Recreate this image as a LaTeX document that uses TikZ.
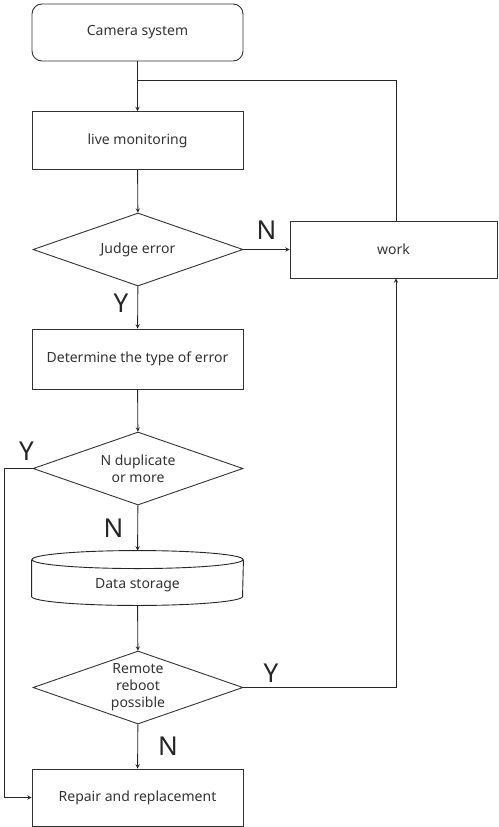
\documentclass[tikz,border=0pt]{standalone}
\usepackage{fontspec}
\setmainfont{Noto Sans}
\usepackage{tikz}
\usetikzlibrary{shapes.geometric}

\tikzset{
  box/.style={draw=black!80, line width=0.9pt, minimum width=211pt, minimum height=58pt,
    inner sep=0pt, font=\fontsize{14}{17}\selectfont, text=black!80},
  decide/.style={diamond, draw=black!80, line width=0.9pt, minimum width=210pt, minimum height=73pt,
    aspect=2.9, inner sep=0pt, align=center, font=\fontsize{14}{17}\selectfont, text=black!80},
  yn/.style={font=\fontsize{26}{30}\selectfont, text=black!85, inner sep=0pt},
  flow/.style={-stealth, line width=0.9pt, draw=black!85},
  wire/.style={line width=0.9pt, draw=black!85}
}

\begin{document}
\begin{tikzpicture}[x=1pt,y=-1pt]
            \useasboundingbox (0,0) rectangle (498,827);

            \node[box, rounded corners=10pt, minimum height=57pt] (cam) at (137.5,32.5) {Camera system};
            \node[box] (live) at (137.5,140.5) {live monitoring};
            \node[decide] (judge) at (138,249.5) {Judge error};
            \node[box, minimum width=207pt, minimum height=57pt] (work) at (393.5,249.5) {work};
            \node[box, minimum height=60pt] (kind) at (137.5,359) {Determine the type of error};
            \node[decide] (dup) at (138,468.5) {N duplicate\\or more};
            \node[box, draw=none, text height=37pt, text depth=17pt, minimum height=0pt] (store) at (137.5,578) {Data storage};
            \node[decide] (reboot) at (138,687.5) {Remote\\reboot\\possible};
            \node[box, minimum height=57pt] (repair) at (137.5,797.5) {Repair and replacement};

            % drum outline of the storage
            \draw[wire] ([yshift=-9pt]store.north) ellipse [x radius=105.5pt, y radius=9pt];
            \draw[wire] ([yshift=-9pt]store.north west) -- ([yshift=9pt]store.south west)
                arc[start angle=180, end angle=360, x radius=105.5pt, y radius=9pt]
                -- ([yshift=-9pt]store.north east);

            \draw (137.5,80) coordinate (join);
            \draw (396,80) coordinate (back);

            \draw[flow] (cam) -- (live);
            \draw[wire] (work.north -| back) -- (back) -- (join);
            \draw[flow] (live) -- (judge);
            \draw[flow] (judge) -- node[yn, above=10pt]{N} (work);
            \draw[flow] (judge) -- node[yn, left=9pt, pos=0.4]{Y} (kind);
            \draw[flow] (kind) -- (dup);
            \draw[flow] (dup.west) -- node[yn, above=8pt, pos=0.22]{Y} ++(-28,0) |- (repair.west);
            \draw[flow] (dup) -- node[yn, left=14pt]{N} (store);
            \draw[flow] (store) -- (reboot);
            \draw[flow] (reboot.east) -| node[yn, above=5pt, pos=0.09]{Y} (work.south -| back);
            \draw[flow] (reboot) -- node[yn, right=20pt]{N} (repair);
        \end{tikzpicture}
\end{document}
